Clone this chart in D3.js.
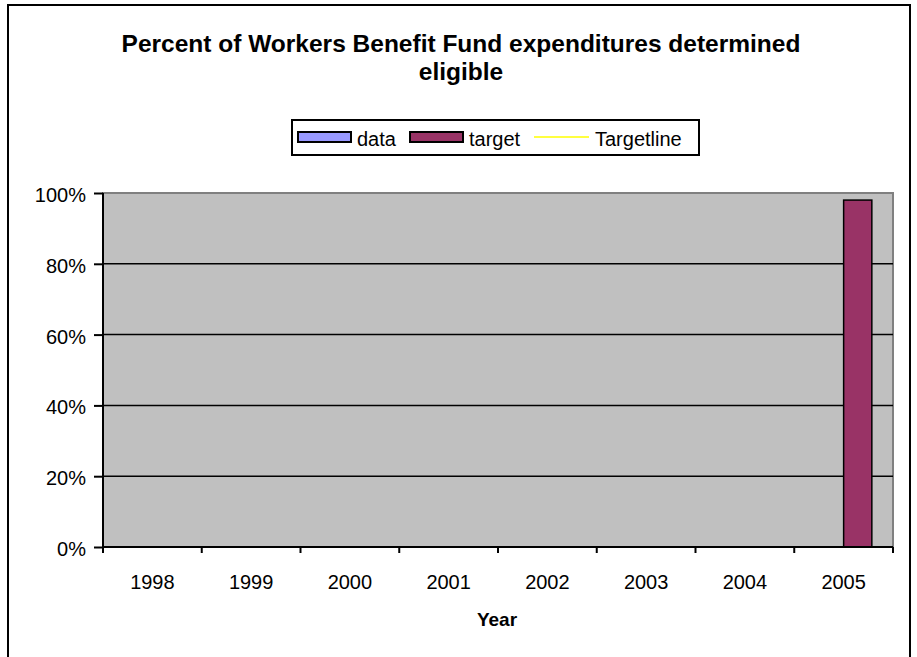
<!DOCTYPE html>
<html>
<head>
<meta charset="utf-8">
<script src="https://cdn.jsdelivr.net/npm/d3@7"></script>
<style>
  html, body { margin: 0; padding: 0; background: #ffffff; }
  svg { display: block; font-family: "Liberation Sans", Arial, sans-serif; }
</style>
</head>
<body>
<svg id="chart" width="917" height="657"></svg>
<script>
// Chart content
const titleLines = ["Percent of Workers Benefit Fund expenditures determined", "eligible"];
const years = ["1998", "1999", "2000", "2001", "2002", "2003", "2004", "2005"];
const dataValues = [null, null, null, null, null, null, null, null];
const targetValues = [null, null, null, null, null, null, null, 0.98];
const targetlineValues = [null, null, null, null, null, null, null, null];
const yTicks = [0, 0.2, 0.4, 0.6, 0.8, 1.0];
const seriesNames = ["data", "target"];
const seriesColors = ["#9999FF", "#993366"];
const xTitle = "Year";

const FONT = "Liberation Sans, Arial, sans-serif";
const svg = d3.select("#chart");

// Outer chart frame
svg.append("rect")
  .attr("x", 8).attr("y", 5).attr("width", 902).attr("height", 660)
  .attr("fill", "#ffffff").attr("stroke", "#000").attr("stroke-width", 2);

// Title
svg.append("g").selectAll("text").data(titleLines).join("text")
  .attr("x", 461).attr("y", (d, i) => 52 + i * 28)
  .attr("text-anchor", "middle")
  .attr("font-size", 24.5).attr("font-weight", "bold")
  .text(d => d);

// Plot geometry
const plot = { left: 103, top: 193, right: 893, bottom: 547 };

const x = d3.scaleBand().domain(years).range([plot.left, plot.right]).paddingInner(0).paddingOuter(0);
const xs = d3.scaleBand().domain(seriesNames).range([0, x.bandwidth()]).paddingInner(0).paddingOuter(0.75);
const y = d3.scaleLinear().domain([0, 1]).range([plot.bottom, plot.top]);

// Plot background
svg.append("rect")
  .attr("x", plot.left).attr("y", plot.top)
  .attr("width", plot.right - plot.left).attr("height", plot.bottom - plot.top)
  .attr("fill", "#C0C0C0").attr("stroke", "#808080").attr("stroke-width", 2);

// Horizontal gridlines
svg.append("g").selectAll("line").data(yTicks.filter(t => t > 0 && t < 1)).join("line")
  .attr("x1", plot.left).attr("x2", plot.right)
  .attr("y1", d => y(d)).attr("y2", d => y(d))
  .attr("stroke", "#000").attr("stroke-width", 1.5);

// Bars
const seriesData = [dataValues, targetValues];
seriesNames.forEach((name, si) => {
  const vals = years.map((yr, i) => ({ yr, v: seriesData[si][i] })).filter(d => d.v != null);
  svg.append("g").selectAll("rect").data(vals).join("rect")
    .attr("x", d => x(d.yr) + xs(name))
    .attr("y", d => y(d.v))
    .attr("width", xs.bandwidth())
    .attr("height", d => y(0) - y(d.v))
    .attr("fill", seriesColors[si])
    .attr("stroke", "#000").attr("stroke-width", 1.5);
});

// Target line (no plotted values)
const tl = years.map((yr, i) => ({ yr, v: targetlineValues[i] }));
svg.append("path")
  .datum(tl)
  .attr("fill", "none").attr("stroke", "#FFFF00").attr("stroke-width", 1.5)
  .attr("d", d3.line().defined(d => d.v != null).x(d => x(d.yr) + x.bandwidth() / 2).y(d => y(d.v)));

// Y axis
const yAxis = svg.append("g")
  .attr("transform", `translate(${plot.left},0)`)
  .call(d3.axisLeft(y).tickValues(yTicks).tickFormat(d3.format(".0%")).tickSize(9).tickPadding(8));
yAxis.select(".domain").attr("stroke-width", 2).attr("d", `M0,${plot.top}V${plot.bottom}`);
yAxis.selectAll(".tick line").attr("stroke-width", 2);
yAxis.selectAll("text")
  .attr("font-size", 20).attr("fill", "#000").attr("font-family", FONT)
  .attr("dy", "0.42em");

// X axis: ticks at category boundaries
const xAxisG = svg.append("g").attr("transform", `translate(0,${plot.bottom})`);
xAxisG.append("line")
  .attr("x1", plot.left).attr("x2", plot.right).attr("y1", 0).attr("y2", 0)
  .attr("stroke", "#000").attr("stroke-width", 2);
const boundaries = years.map(yr => x(yr)).concat([x(years[years.length - 1]) + x.bandwidth()]);
xAxisG.selectAll("line.tk").data(boundaries).join("line")
  .attr("class", "tk")
  .attr("x1", d => d).attr("x2", d => d).attr("y1", 0).attr("y2", 6)
  .attr("stroke", "#000").attr("stroke-width", 2);
xAxisG.selectAll("text").data(years).join("text")
  .attr("x", d => x(d) + x.bandwidth() / 2).attr("y", 42)
  .attr("text-anchor", "middle").attr("font-size", 20)
  .text(d => d);

// X axis title
svg.append("text")
  .attr("x", 497).attr("y", 626)
  .attr("text-anchor", "middle").attr("font-size", 19).attr("font-weight", "bold")
  .text(xTitle);

// Legend
const legend = svg.append("g");
legend.append("rect")
  .attr("x", 292).attr("y", 120).attr("width", 407).attr("height", 35)
  .attr("fill", "#fff").attr("stroke", "#000").attr("stroke-width", 2);
const legendItems = [
  { name: "data", type: "rect", color: seriesColors[0], sx: 298, tx: 357 },
  { name: "target", type: "rect", color: seriesColors[1], sx: 410, tx: 469 },
  { name: "Targetline", type: "line", color: "#FFFF00", sx: 534, tx: 595 }
];
legendItems.forEach(it => {
  if (it.type === "rect") {
    legend.append("rect")
      .attr("x", it.sx).attr("y", 132).attr("width", 53).attr("height", 10)
      .attr("fill", it.color).attr("stroke", "#000").attr("stroke-width", 2);
  } else {
    legend.append("line")
      .attr("x1", it.sx).attr("x2", it.sx + 55).attr("y1", 137).attr("y2", 137)
      .attr("stroke", it.color).attr("stroke-width", 1.5);
  }
  legend.append("text")
    .attr("x", it.tx).attr("y", 146).attr("font-size", 20)
    .text(it.name);
});
</script>
</body>
</html>
